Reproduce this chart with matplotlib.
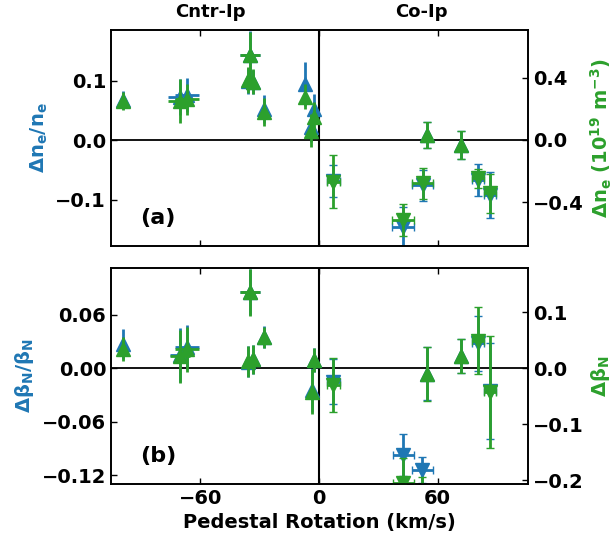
import numpy as np
import matplotlib.pyplot as plt

blue = '#1f77b4'
green = '#2ca02c'

# (a) density response
rot_a = [-99, -70.5, -67, -35, -35.8, -33.3, -28, -7.1, -4.2, -2.4,
         7.3, 42.7, 52.5, 54.9, 71.7, 80.7, 86.6]
rot_err_a = [0, 6, 6, 5, 0, 0, 0, 0, 0, 0, 3.2, 5.5, 5.3, 0, 0, 3, 3]
dne_rel = [0.067, 0.073, 0.076, 0.143, 0.100, 0.098, 0.052, 0.094, 0.022, 0.053,
           -0.068, -0.146, -0.076, 0.008, -0.008, -0.067, -0.092]
dne_rel_err = [0.015, 0.03, 0.028, 0.04, 0.022, 0.02, 0.023, 0.037, 0.025, 0.025,
               0.027, 0.034, 0.026, 0.022, 0.023, 0.027, 0.039]
dne = [0.25, 0.252, 0.261, 0.545, 0.385, 0.374, 0.181, 0.278, 0.06, 0.146,
       -0.267, -0.513, -0.278, 0.032, -0.032, -0.246, -0.342]
dne_err = [0.056, 0.14, 0.10, 0.15, 0.085, 0.08, 0.09, 0.08, 0.107, 0.10,
           0.171, 0.10, 0.10, 0.085, 0.088, 0.06, 0.126]
mk_a = ['^'] * 10 + ['v', 'v', 'v', '^', '^', 'v', 'v']

# (b) beta_N response
rot_b = [-99, -70.5, -67, -35, -35.8, -33.3, -28, -3.7, -2.4,
         7.3, 42.7, 52.2, 54.9, 71.7, 80.7, 86.6]
rot_err_b = [0, 5, 6, 5, 0, 0, 0, 0, 0, 3.2, 5.4, 5.3, 0, 0, 3, 3]
dbn_rel = [0.027, 0.015, 0.024, 0.0855, 0.0075, 0.010, 0.035, -0.024, 0.0093,
           -0.015, -0.0975, -0.1144, -0.006, 0.014, 0.028, -0.026]
dbn_rel_err = [0.017, 0.03, 0.025, 0.026, 0.017, 0.016, 0.012, 0.025, 0.013,
               0.025, 0.024, 0.015, 0.03, 0.019, 0.031, 0.054]
dbn = [0.034, 0.021, 0.034, 0.136, 0.012, 0.016, 0.055, -0.042, 0.0148,
       -0.030, -0.205, -0.235, -0.010, 0.022, 0.049, -0.042]
dbn_err = [0.021, 0.048, 0.04, 0.042, 0.028, 0.026, 0.019, 0.04, 0.021,
           0.048, 0.045, 0.04, 0.048, 0.03, 0.06, 0.10]
mk_b = ['^'] * 9 + ['v', 'v', 'v', '^', '^', 'v', 'v']

plt.rcParams['font.weight'] = 'bold'
plt.rcParams['font.size'] = 14

fig = plt.figure(figsize=(6.15, 5.4), dpi=100)
ax1 = fig.add_axes([0.1805, 0.5444, 0.678, 0.4])
ax2 = fig.add_axes([0.1805, 0.1037, 0.678, 0.4])


def panel(ax, x, xe, y1, e1, y2, e2, mk):
    tw = ax.twinx()
    for i in range(len(x)):
        # only the co-Ip shots carry end caps in the original
        cs = 3 if x[i] > 0 else 0
        ax.errorbar(x[i], y1[i], xerr=xe[i], yerr=e1[i], fmt=mk[i], color=blue,
                    ms=10, elinewidth=2, capsize=cs, capthick=1)
        tw.errorbar(x[i], y2[i], xerr=xe[i], yerr=e2[i], fmt=mk[i], color=green,
                    ms=10, elinewidth=2, capsize=cs, capthick=1)
    ax.axhline(0, color='k', lw=1.3)
    ax.axvline(0, color='k', lw=1.5)
    ax.set_xlim(-105.3, 105.8)
    ax.set_xticks([-60, 0, 60])
    for a in (ax, tw):
        a.tick_params(direction='in', length=4, width=1, labelsize=14)
        for s in a.spines.values():
            s.set_linewidth(1.2)
    ax.tick_params(top=True)
    return tw


tw1 = panel(ax1, rot_a, rot_err_a, dne_rel, dne_rel_err, dne, dne_err, mk_a)
ax1.set_ylim(-0.178, 0.185)
tw1.set_ylim(-0.68, 0.705)
ax1.set_yticks([-0.1, 0.0, 0.1])
tw1.set_yticks([-0.4, 0.0, 0.4])
ax1.tick_params(labelbottom=False)
ax1.set_ylabel(r'$\mathbf{\Delta n_e/n_e}$', color=blue, fontsize=14)
tw1.set_ylabel(r'$\mathbf{\Delta n_e\ (10^{19}\ m^{-3})}$', color=green, fontsize=14)
ax1.text(0.07, 0.1, '(a)', transform=ax1.transAxes, fontsize=16, fontweight='bold')
ax1.text(-55, 0.2, 'Cntr-Ip', ha='center', va='bottom', fontsize=13)
ax1.text(52, 0.2, 'Co-Ip', ha='center', va='bottom', fontsize=13)

tw2 = panel(ax2, rot_b, rot_err_b, dbn_rel, dbn_rel_err, dbn, dbn_err, mk_b)
ax2.set_ylim(-0.130, 0.1125)
tw2.set_ylim(-0.207, 0.179)
ax2.set_yticks([-0.12, -0.06, 0.0, 0.06])
ax2.set_yticklabels(['\u22120.12', '\u22120.06', '0.00', '0.06'])
tw2.set_yticks([-0.2, -0.1, 0.0, 0.1])
ax2.set_ylabel(r'$\mathbf{\Delta \beta_N/\beta_N}$', color=blue, fontsize=14)
tw2.set_ylabel(r'$\mathbf{\Delta \beta_N}$', color=green, fontsize=14)
ax2.text(0.07, 0.1, '(b)', transform=ax2.transAxes, fontsize=16, fontweight='bold')
ax2.set_xlabel('Pedestal Rotation (km/s)', fontsize=14, fontweight='bold')

fig.savefig('out.png', dpi=100)
